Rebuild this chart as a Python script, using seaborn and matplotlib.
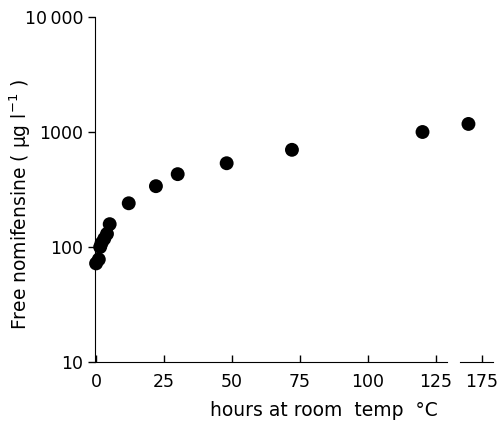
import numpy as np
import pandas as pd
import matplotlib
matplotlib.use("Agg")
import matplotlib.pyplot as plt
import seaborn as sns

# values
hours = [0, 1, 1.5, 2, 3, 4, 5, 12, 22, 30, 48, 72, 120, 170]
free_nomifensine = [72, 78, 100, 108, 118, 130, 158, 240, 338, 430, 535, 700, 1000, 1175]
yticks = [10, 100, 1000, 10000]
ytick_labels = ["10", "100", "1000", "10\u2009000"]
xticks_left = [0, 25, 50, 75, 100, 125]
xticks_right = [175]

df = pd.DataFrame({"hours": hours, "conc": free_nomifensine})

sns.set_style("ticks")
plt.rcParams["font.family"] = ["DejaVu Sans"]
plt.rcParams["text.color"] = "black"
plt.rcParams["xtick.color"] = "black"
plt.rcParams["ytick.color"] = "black"
plt.rcParams["axes.edgecolor"] = "black"

fig = plt.figure(figsize=(4.99, 4.21), dpi=100)
ax1 = fig.add_axes([95 / 499, 1 - 362 / 421, 352 / 499, 345 / 421])
ax2 = fig.add_axes([460 / 499, 1 - 362 / 421, 33 / 499, 345 / 421], sharey=ax1)

# broken x axis: main part up to ~129 h, small part around 175 h
parts = [(ax1, df[df["hours"] <= 129]), (ax2, df[df["hours"] > 129])]
for ax, sub in parts:
    sns.scatterplot(data=sub, x="hours", y="conc", ax=ax, color="black",
                    s=100, edgecolor="none", legend=False, clip_on=False)
    ax.set_yscale("log")
    ax.set_ylim(10, 10000)
    ax.set_xlabel("")
    ax.set_ylabel("")
    ax.spines["top"].set_visible(False)
    ax.spines["right"].set_visible(False)
    ax.tick_params(axis="x", direction="in", length=5, width=1, labelsize=12.5,
                   pad=8, labelcolor="black")
    ax.tick_params(axis="y", direction="out", length=5, width=1, labelsize=12.5,
                   labelcolor="black")
    ax.yaxis.set_minor_locator(matplotlib.ticker.NullLocator())

ax1.set_xlim(-0.4, 129)
ax1.set_xticks(xticks_left)
ax1.set_yticks(yticks)
ax1.set_yticklabels(ytick_labels)

ax2.set_xlim(166.9, 179)
ax2.set_xticks(xticks_right)
ax2.spines["left"].set_visible(False)
ax2.tick_params(axis="y", left=False, labelleft=False)

fig.text(20 / 499, 1 - 205 / 421, "Free nomifensine ( µg l$^{-1}$ )",
         rotation=90, ha="center", va="center", fontsize=13.5)
fig.text(324 / 499, 1 - 410 / 421, "hours at room  temp  °C",
         ha="center", va="center", fontsize=13.5)

fig.savefig("out.png", dpi=100)
